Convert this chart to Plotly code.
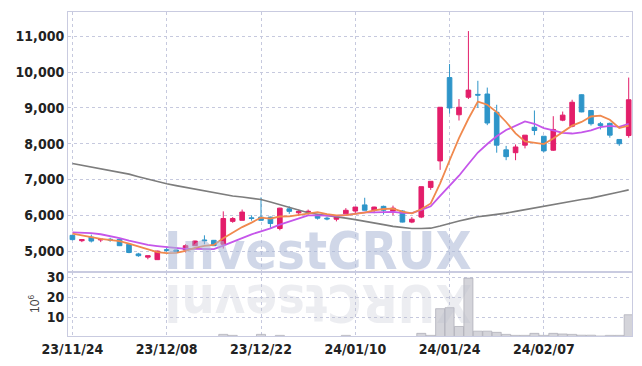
import plotly.graph_objects as go
from plotly.subplots import make_subplots

dates = [
    "2023-11-24", "2023-11-27", "2023-11-28", "2023-11-29", "2023-11-30",
    "2023-12-01", "2023-12-04", "2023-12-05", "2023-12-06", "2023-12-07",
    "2023-12-08", "2023-12-11", "2023-12-12", "2023-12-13", "2023-12-14",
    "2023-12-15", "2023-12-18", "2023-12-19", "2023-12-20", "2023-12-21",
    "2023-12-22", "2023-12-26", "2023-12-27", "2023-12-28", "2024-01-02",
    "2024-01-03", "2024-01-04", "2024-01-05", "2024-01-08", "2024-01-09",
    "2024-01-10", "2024-01-11", "2024-01-12", "2024-01-15", "2024-01-16",
    "2024-01-17", "2024-01-18", "2024-01-19", "2024-01-22", "2024-01-23",
    "2024-01-24", "2024-01-25", "2024-01-26", "2024-01-29", "2024-01-30",
    "2024-01-31", "2024-02-01", "2024-02-02", "2024-02-05", "2024-02-06",
    "2024-02-07", "2024-02-08", "2024-02-13", "2024-02-14", "2024-02-15",
    "2024-02-16", "2024-02-19", "2024-02-20", "2024-02-21", "2024-02-22",
]

opens = [5440, 5290, 5390, 5310, 5330, 5330, 5190, 4920, 4830, 4760,
         5040, 5030, 5030, 5150, 5310, 5300, 5190, 5830, 5860, 5930,
         5950, 5950, 5630, 6180, 6070, 6090, 6010, 5920, 5890, 6040,
         6120, 6290, 6140, 6250, 6120, 6120, 5810, 5950, 6780, 7520,
         9850, 8810, 9300, 9380, 9390, 8880, 7830, 7750, 7960, 8460,
         8210, 7820, 8660, 8490, 9370, 8930, 8560, 8570, 8120, 8230]
highs = [5450, 5330, 5460, 5340, 5370, 5340, 5200, 4950, 4870, 5010,
         5090, 5040, 5190, 5290, 5440, 5310, 6110, 5950, 6160, 6000,
         6500, 5960, 6210, 6250, 6160, 6160, 6020, 5960, 5950, 6200,
         6230, 6490, 6240, 6270, 6270, 6140, 5950, 6800, 6950, 9020,
         10230, 9250, 11150, 9760, 9570, 9090, 7940, 7980, 8240, 8930,
         8210, 8770, 8900, 9230, 9380, 8930, 8610, 8590, 8120, 9850]
lows = [5300, 5250, 5240, 5250, 5260, 5140, 4940, 4840, 4770, 4760,
        4980, 4970, 4960, 5140, 5190, 5140, 5070, 5790, 5860, 5850,
        5850, 5650, 5580, 6040, 5980, 6020, 5880, 5860, 5830, 6040,
        6040, 6140, 6060, 6020, 6000, 5800, 5780, 5920, 6710, 7270,
        8840, 8650, 9250, 9000, 8520, 7750, 7540, 7540, 7870, 8240,
        7760, 7800, 8630, 8460, 8880, 8510, 8400, 8170, 7940, 8170]
closes = [5320, 5320, 5280, 5330, 5310, 5150, 4960, 4870, 4870, 5000,
          5020, 4980, 5150, 5280, 5290, 5150, 5910, 5910, 6090, 5910,
          5860, 5770, 6200, 6110, 6110, 6110, 5920, 5900, 5950, 6140,
          6230, 6140, 6230, 6140, 6200, 5810, 5890, 6800, 6950, 9020,
          9000, 9020, 9500, 9360, 8580, 7960, 7640, 7910, 8240, 8370,
          7800, 8400, 8800, 9160, 8890, 8560, 8510, 8240, 8000, 9230]

# volume in millions of shares
volumes = [0.5, 0.5, 0.5, 0.5, 0.5, 0.5, 0.5, 0.5, 0.5, 0.5,
           0.5, 0.5, 0.5, 0.5, 0.5, 0.5, 1.7, 1.2, 0.6, 0.6,
           1.7, 0.6, 1.2, 0.6, 0.6, 0.6, 0.6, 0.6, 0.6, 1.2,
           0.6, 0.6, 0.6, 0.6, 0.6, 0.6, 0.6, 2.2, 1.2, 14.4,
           14.9, 5.6, 29.5, 3.3, 3.3, 2.7, 1.7, 1.2, 1.2, 2.2,
           1.2, 2.2, 1.9, 1.7, 1.3, 1.3, 0.9, 1.2, 1.2, 11.4]

ma5 = [5490, 5450, 5390, 5340, 5312, 5278, 5206, 5124, 5032, 4970,
       4944, 4948, 5004, 5086, 5144, 5170, 5356, 5508, 5670, 5794,
       5936, 5908, 5966, 5970, 6010, 6060, 6090, 6030, 5998, 6004,
       6028, 6072, 6138, 6176, 6188, 6104, 6054, 6168, 6330, 6894,
       7532, 8158, 8698, 9180, 9092, 8884, 8608, 8290, 8066, 8024,
       7992, 8144, 8322, 8506, 8610, 8762, 8784, 8672, 8440, 8508]
ma10 = [5520, 5515, 5500, 5470, 5420, 5360, 5290, 5220, 5170, 5141,
        5111, 5077, 5064, 5059, 5057, 5057, 5152, 5256, 5378, 5469,
        5553, 5632, 5737, 5820, 5902, 5998, 5999, 5998, 5984, 6007,
        6044, 6081, 6084, 6087, 6096, 6066, 6063, 6153, 6253, 6541,
        6818, 7106, 7433, 7755, 7993, 8208, 8383, 8494, 8623, 8558,
        8438, 8376, 8306, 8286, 8317, 8377, 8464, 8497, 8473, 8559]
ma60 = [7450, 7400, 7350, 7310, 7260, 7210, 7150, 7080, 7010, 6950,
        6880, 6830, 6780, 6720, 6670, 6620, 6580, 6540, 6510, 6470,
        6440, 6370, 6290, 6220, 6140, 6070, 6030, 6000, 5960, 5920,
        5880, 5840, 5790, 5740, 5690, 5650, 5630, 5630, 5640, 5700,
        5780, 5840, 5900, 5960, 5990, 6020, 6060, 6110, 6160, 6210,
        6260, 6310, 6360, 6400, 6440, 6480, 6530, 6590, 6650, 6710]

tick_dates = ["2023-11-24", "2023-12-08", "2023-12-22", "2024-01-10", "2024-01-24", "2024-02-07"]
tick_labels = ["23/11/24", "23/12/08", "23/12/22", "24/01/10", "24/01/24", "24/02/07"]
price_ticks = [5000, 6000, 7000, 8000, 9000, 10000, 11000]
volume_ticks = [10, 20, 30]

UP = "#e31e6a"
DOWN = "#2e95c9"
GRID = "#c6c9de"
AXIS = "#c9cbe0"
FAM = "Liberation Sans Narrow, DejaVu Sans Condensed, Roboto Condensed, Liberation Sans, sans-serif"
TICKFONT = dict(family=FAM, size=14, color="#222", weight="bold")

fig = make_subplots(rows=2, cols=1, shared_xaxes=True, vertical_spacing=0,
                    row_heights=[0.802, 0.198])

fig.add_trace(go.Scatter(x=dates, y=ma60, mode="lines",
                         line=dict(color="#7d7d7d", width=1.6), hoverinfo="skip"), row=1, col=1)
fig.add_trace(go.Candlestick(
    x=dates, open=opens, high=highs, low=lows, close=closes,
    increasing=dict(line=dict(color=UP, width=1), fillcolor=UP),
    decreasing=dict(line=dict(color=DOWN, width=1), fillcolor=DOWN),
    whiskerwidth=0,
), row=1, col=1)
fig.add_trace(go.Scatter(x=dates, y=ma10, mode="lines",
                         line=dict(color="#c556ea", width=1.8), hoverinfo="skip"), row=1, col=1)
fig.add_trace(go.Scatter(x=dates, y=ma5, mode="lines",
                         line=dict(color="#f0894e", width=1.8), hoverinfo="skip"), row=1, col=1)

fig.add_trace(go.Bar(x=dates, y=volumes,
                     marker=dict(color="rgba(212,212,218,1)",
                                 line=dict(color="rgba(170,170,180,1)", width=0.7))),
              row=2, col=1)

fig.update_layout(
    width=642, height=366,
    margin=dict(l=68, r=10, t=9, b=29),
    paper_bgcolor="white", plot_bgcolor="white",
    showlegend=False, bargap=0.04,
    xaxis_rangeslider_visible=False,
)

xcommon = dict(type="category", range=[-0.47, 59.35], showgrid=True, gridcolor=GRID,
               griddash="dot", gridwidth=1, tickvals=tick_dates, ticktext=tick_labels,
               showline=True, linecolor=AXIS, linewidth=1, mirror=True, ticks="",
               zeroline=False)
fig.update_xaxes(**xcommon, showticklabels=False, row=1, col=1)
fig.update_xaxes(**xcommon, showticklabels=True, tickfont=TICKFONT, row=2, col=1)

fig.update_yaxes(range=[4419, 11683], tickvals=price_ticks, tickformat=",",
                 showgrid=True, gridcolor=GRID, griddash="dot", gridwidth=1,
                 showline=True, linecolor=AXIS, linewidth=1, mirror=True,
                 tickfont=TICKFONT, ticks="", zeroline=False, row=1, col=1)
fig.update_yaxes(range=[0.9, 32.6], tickvals=volume_ticks,
                 showgrid=True, gridcolor=GRID, griddash="dot", gridwidth=1,
                 showline=True, linecolor=AXIS, linewidth=1, mirror=True,
                 tickfont=TICKFONT, ticks="", zeroline=False,
                 title=dict(text="10<sup>6</sup>", standoff=4,
                            font=dict(family="Liberation Sans, sans-serif", size=12, color="#444")),
                 row=2, col=1)

fig.add_annotation(text="InvestCRUX", xref="paper", yref="paper", x=0.443, y=0.262,
                   xanchor="center", yanchor="middle", showarrow=False,
                   font=dict(family=FAM, size=52,
                             color="rgba(170,182,214,0.55)", weight="bold"))
fig.add_annotation(text="XURCtsevnI", xref="paper", yref="paper", x=0.443, y=0.1,
                   xanchor="center", yanchor="middle", showarrow=False, textangle=180,
                   font=dict(family=FAM, size=52,
                             color="rgba(185,190,205,0.28)", weight="bold"))

fig.write_html("out.html", config={"displayModeBar": False},
               post_script="document.body.style.margin='0px';document.body.style.overflow='hidden';")
